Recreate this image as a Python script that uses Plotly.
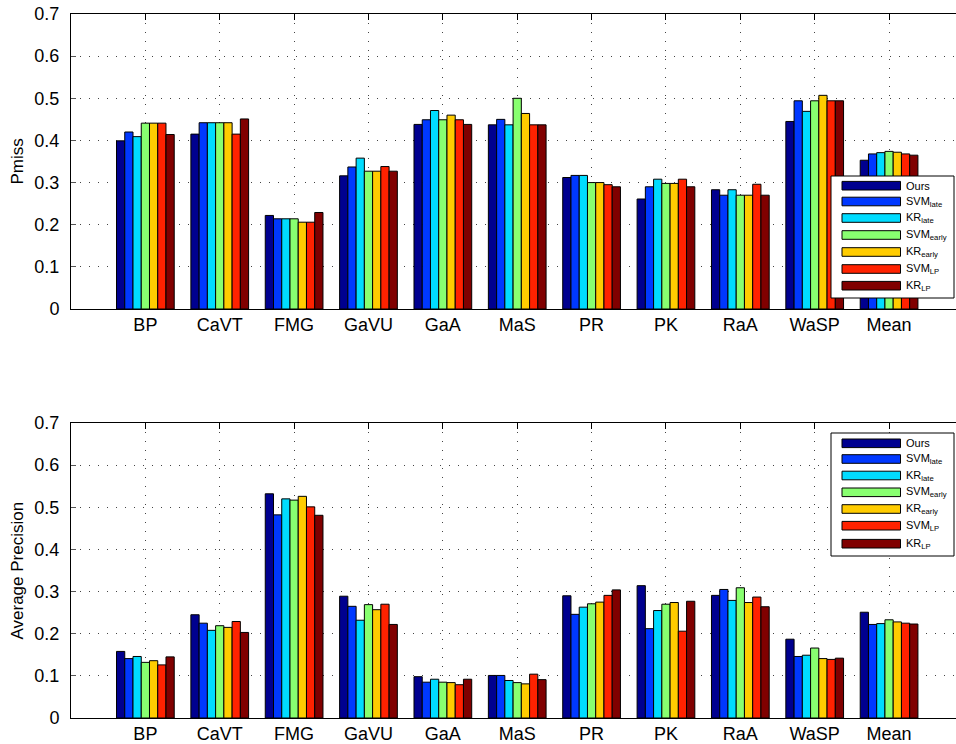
import plotly.graph_objects as go

categories = ["BP", "CaVT", "FMG", "GaVU", "GaA", "MaS", "PR", "PK", "RaA", "WaSP", "Mean"]
series_names = ["Ours", "SVM<sub>late</sub>", "KR<sub>late</sub>", "SVM<sub>early</sub>",
                "KR<sub>early</sub>", "SVM<sub>LP</sub>", "KR<sub>LP</sub>"]
colors = ["#00008F", "#0038FF", "#00DCFF", "#88FF70", "#FFCC00", "#FF2200", "#800000"]

# Pmiss (top panel), one list per method
pmiss_ours      = [0.399, 0.415, 0.222, 0.316, 0.438, 0.437, 0.312, 0.261, 0.283, 0.445, 0.353]
pmiss_svm_late  = [0.420, 0.442, 0.214, 0.337, 0.449, 0.450, 0.317, 0.290, 0.270, 0.494, 0.368]
pmiss_kr_late   = [0.409, 0.442, 0.214, 0.358, 0.471, 0.437, 0.317, 0.308, 0.283, 0.469, 0.371]
pmiss_svm_early = [0.441, 0.442, 0.214, 0.327, 0.449, 0.500, 0.300, 0.298, 0.270, 0.494, 0.374]
pmiss_kr_early  = [0.441, 0.442, 0.206, 0.327, 0.460, 0.464, 0.300, 0.298, 0.270, 0.507, 0.372]
pmiss_svm_lp    = [0.441, 0.415, 0.206, 0.338, 0.449, 0.437, 0.295, 0.308, 0.296, 0.494, 0.368]
pmiss_kr_lp     = [0.414, 0.451, 0.229, 0.327, 0.438, 0.437, 0.290, 0.290, 0.270, 0.494, 0.365]

# Average precision (bottom panel)
ap_ours      = [0.158, 0.245, 0.532, 0.289, 0.098, 0.101, 0.290, 0.314, 0.291, 0.187, 0.251]
ap_svm_late  = [0.141, 0.225, 0.482, 0.265, 0.085, 0.101, 0.246, 0.212, 0.305, 0.146, 0.222]
ap_kr_late   = [0.146, 0.208, 0.520, 0.232, 0.092, 0.089, 0.263, 0.255, 0.279, 0.149, 0.224]
ap_svm_early = [0.132, 0.219, 0.517, 0.269, 0.085, 0.084, 0.271, 0.270, 0.309, 0.166, 0.233]
ap_kr_early  = [0.136, 0.215, 0.526, 0.257, 0.084, 0.081, 0.275, 0.274, 0.274, 0.141, 0.228]
ap_svm_lp    = [0.126, 0.229, 0.501, 0.270, 0.079, 0.104, 0.291, 0.206, 0.287, 0.139, 0.225]
ap_kr_lp     = [0.145, 0.203, 0.481, 0.222, 0.092, 0.091, 0.304, 0.277, 0.264, 0.142, 0.223]

y_ticks = [0, 0.1, 0.2, 0.3, 0.4, 0.5, 0.6, 0.7]
y_tick_labels = ["0", "0.1", "0.2", "0.3", "0.4", "0.5", "0.6", "0.7"]

pmiss = [pmiss_ours, pmiss_svm_late, pmiss_kr_late, pmiss_svm_early, pmiss_kr_early, pmiss_svm_lp, pmiss_kr_lp]
ap = [ap_ours, ap_svm_late, ap_kr_late, ap_svm_early, ap_kr_early, ap_svm_lp, ap_kr_lp]

W, H = 956, 744
ML, MR, MT, MB = 71, 0, 14, 26
PW, PH = W - ML - MR, H - MT - MB
FONT = "Liberation Sans, Arial, Helvetica, sans-serif"


def px_x(x):
    return (x - ML) / PW


def px_y(y):
    return (H - MB - y) / PH


fig = go.Figure()
for i, name in enumerate(series_names):
    fig.add_trace(go.Bar(x=categories, y=pmiss[i], name=name, marker_color=colors[i],
                         marker_line=dict(color="black", width=1), showlegend=False,
                         xaxis="x", yaxis="y"))
for i, name in enumerate(series_names):
    fig.add_trace(go.Bar(x=categories, y=ap[i], name=name, marker_color=colors[i],
                         marker_line=dict(color="black", width=1), showlegend=False,
                         xaxis="x2", yaxis="y2"))

top_dom = [px_y(309), px_y(14)]
bot_dom = [px_y(718), px_y(423)]
x_range = [-1, -1 + PW / 74.37]

axis_common = dict(showline=True, linecolor="black", linewidth=1, ticks="inside", ticklen=6,
                   tickcolor="black", showgrid=True, gridcolor="#444", gridwidth=1,
                   griddash="1px,8px", zeroline=False, layer="below traces", automargin=False,
                   tickfont=dict(family=FONT, size=18, color="black"))

xcommon = dict(axis_common, type="category", categoryorder="array", categoryarray=categories,
               range=x_range, mirror="ticks", ticklabelstandoff=-1)
ycommon = dict(axis_common, range=[0, 0.7], tickvals=y_ticks, ticktext=y_tick_labels,
               mirror=False, ticklabelstandoff=7, tickcolor="#555", ticklen=5)

fig.update_layout(
    template="none",
    width=W, height=H,
    margin=dict(l=ML, r=MR, t=MT, b=MB, autoexpand=False),
    paper_bgcolor="white", plot_bgcolor="white",
    barmode="group", bargap=0.224, bargroupgap=0.0,
    font=dict(family=FONT, size=18, color="black"),
    xaxis=dict(xcommon, domain=[0, 1], anchor="y"),
    yaxis=dict(ycommon, domain=top_dom, anchor="x"),
    xaxis2=dict(xcommon, domain=[0, 1], anchor="y2"),
    yaxis2=dict(ycommon, domain=bot_dom, anchor="x2"),
)

shapes = []
annotations = []

# y-axis titles
annotations.append(dict(text="Pmiss", x=px_x(17), y=px_y(161.5), xref="paper", yref="paper",
                        textangle=-90, showarrow=False, xanchor="center", yanchor="middle",
                        font=dict(family=FONT, size=17, color="black")))
annotations.append(dict(text="Average Precision", x=px_x(17), y=px_y(570.5), xref="paper", yref="paper",
                        textangle=-90, showarrow=False, xanchor="center", yanchor="middle",
                        font=dict(family=FONT, size=17, color="black")))


def add_legend(box_top, box_bottom, centers):
    shapes.append(dict(type="rect", xref="paper", yref="paper", layer="above",
                       x0=px_x(831), x1=px_x(954), y0=px_y(box_bottom), y1=px_y(box_top),
                       fillcolor="white", line=dict(color="black", width=1)))
    for i, name in enumerate(series_names):
        cy = centers[i]
        shapes.append(dict(type="rect", xref="paper", yref="paper", layer="above",
                           x0=px_x(842), x1=px_x(900.5), y0=px_y(cy + 4.3), y1=px_y(cy - 4.3),
                           fillcolor=colors[i], line=dict(color="black", width=1)))
        annotations.append(dict(text=name, x=px_x(904), y=px_y(cy), xref="paper", yref="paper",
                                showarrow=False, xanchor="left", yanchor="middle",
                                font=dict(family=FONT, size=11, color="black")))


add_legend(176, 298, [185.7, 201.5, 218, 235, 252, 269, 285.7])
add_legend(433, 556, [443.3, 459, 475.5, 492.3, 509, 525.7, 543.7])

fig.update_layout(shapes=shapes, annotations=annotations)
fig.write_html("out.html", config={"displayModeBar": False},
               post_script="document.body.style.margin='0';document.body.style.padding='0';")
